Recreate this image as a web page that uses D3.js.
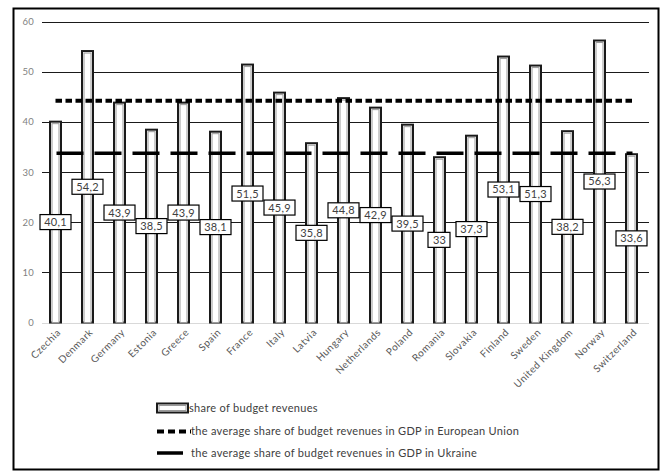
<!DOCTYPE html>
<html>
<head>
<meta charset="utf-8">
<script src="https://cdn.jsdelivr.net/npm/d3@7"></script>
<style>
  body { margin: 0; background: #fff; }
  svg { display: block; font-family: Lato, "Open Sans", sans-serif; }
</style>
</head>
<body>
<div class="chart"></div>
<script>
// share of budget revenues in GDP, by country
const countries = ["Czechia", "Denmark", "Germany", "Estonia", "Greece", "Spain", "France", "Italy", "Latvia",
  "Hungary", "Netherlands", "Poland", "Romania", "Slovakia", "Finland", "Sweden", "United Kingdom", "Norway", "Switzerland"];
const shares = [40.1, 54.2, 43.9, 38.5, 43.9, 38.1, 51.5, 45.9, 35.8, 44.8, 42.9, 39.5, 33, 37.3, 53.1, 51.3, 38.2, 56.3, 33.6];
const euAverage = 44.3;
const ukraineAverage = 33.8;
const yTicks = [0, 10, 20, 30, 40, 50, 60];
const legendLabels = [
  "share of budget revenues",
  "the average share of budget revenues in GDP in European Union",
  " the average share of budget revenues in GDP in Ukraine"
];

const svgWidth = 662;
const svgHeight = 471;

const svg = d3.select(".chart")
  .append("svg")
  .attr("width", svgWidth)
  .attr("height", svgHeight);

// outer frame
svg.append("rect")
  .attr("x", 13.5).attr("y", 8.5)
  .attr("width", 645).attr("height", 461)
  .attr("fill", "none")
  .attr("stroke", "#000")
  .attr("stroke-width", 2);

const x = d3.scaleBand()
  .domain(countries)
  .range([39.5, 647.5]);

const y = d3.scaleLinear()
  .domain([0, 60])
  .range([322.5, 22]);

const gridX0 = 42, gridX1 = 649;

// gridlines
svg.selectAll(".grid")
  .data(yTicks)
  .join("line")
  .attr("x1", gridX0).attr("x2", gridX1)
  .attr("y1", d => Math.round(y(d)) + 0.5)
  .attr("y2", d => Math.round(y(d)) + 0.5)
  .attr("stroke", d => d === 0 ? "#d9d9d9" : "#1a1a1a")
  .attr("stroke-width", 1);

// y tick labels
svg.selectAll(".ytick")
  .data(yTicks)
  .join("text")
  .attr("x", 34)
  .attr("y", d => y(d))
  .attr("dy", "0.35em")
  .attr("text-anchor", "end")
  .attr("font-size", 9.5)
  .attr("letter-spacing", 0.3)
  .attr("fill", "#7f7f7f")
  .text(d => d);

// bars with double outline
const barW = 11;
const bars = svg.selectAll(".bar")
  .data(countries)
  .join("g");

bars.append("rect")
  .attr("x", d => x(d) + x.bandwidth() / 2 - barW / 2)
  .attr("y", (d, i) => y(shares[i]))
  .attr("width", barW)
  .attr("height", (d, i) => y(0) - y(shares[i]))
  .attr("fill", "#fff")
  .attr("stroke", "#1a1a1a")
  .attr("stroke-width", 2);

bars.append("rect")
  .attr("x", d => x(d) + x.bandwidth() / 2 - barW / 2 + 2)
  .attr("y", (d, i) => y(shares[i]) + 2)
  .attr("width", barW - 4)
  .attr("height", (d, i) => y(0) - y(shares[i]) - 2)
  .attr("fill", "#fff")
  .attr("stroke", "#9a9a9a")
  .attr("stroke-width", 1);

// average lines
const firstC = x(countries[0]) + x.bandwidth() / 2;
const lastC = x(countries[countries.length - 1]) + x.bandwidth() / 2;

svg.append("line")
  .attr("x1", firstC).attr("x2", lastC + 1)
  .attr("y1", y(euAverage)).attr("y2", y(euAverage))
  .attr("stroke", "#000")
  .attr("stroke-width", 4)
  .attr("stroke-dasharray", "6.5,3.5");

svg.append("line")
  .attr("x1", firstC + 1).attr("x2", lastC + 1)
  .attr("y1", y(ukraineAverage)).attr("y2", y(ukraineAverage))
  .attr("stroke", "#000")
  .attr("stroke-width", 3.5)
  .attr("stroke-dasharray", "27,11");

// data labels (centered on bar)
const labels = svg.selectAll(".lbl")
  .data(countries)
  .join("g")
  .attr("transform", (d, i) => `translate(${x(d) + x.bandwidth() / 2},${y(shares[i] / 2)})`);

labels.append("text")
  .attr("text-anchor", "middle")
  .attr("dy", "0.36em")
  .attr("font-size", 11)
  .attr("letter-spacing", 0.2)
  .attr("fill", "#404040")
  .text((d, i) => String(shares[i]).replace(".", ","));

labels.each(function () {
  const g = d3.select(this);
  const bb = g.select("text").node().getBBox();
  g.insert("rect", "text")
    .attr("x", -Math.round(bb.width / 2) - 4.5)
    .attr("y", -7.5)
    .attr("width", Math.round(bb.width) + 9)
    .attr("height", 15)
    .attr("fill", "#fff")
    .attr("stroke", "#000")
    .attr("stroke-width", 1.2);
});

// category labels
svg.selectAll(".xlbl")
  .data(countries)
  .join("text")
  .attr("transform", d => `translate(${x(d) + x.bandwidth() / 2 + 6},${333}) rotate(-45)`)
  .attr("text-anchor", "end")
  .attr("font-size", 10)
  .attr("letter-spacing", 0.5)
  .attr("fill", "#595959")
  .text(d => d);

// legend
const legend = svg.append("g");
const rowY = [408, 431.5, 453];

legend.append("rect")
  .attr("x", 157).attr("y", rowY[0] - 4.5)
  .attr("width", 31).attr("height", 9)
  .attr("fill", "#fff")
  .attr("stroke", "#1a1a1a")
  .attr("stroke-width", 2);
legend.append("rect")
  .attr("x", 159).attr("y", rowY[0] - 2.5)
  .attr("width", 27).attr("height", 5)
  .attr("fill", "#fff")
  .attr("stroke", "#9a9a9a")
  .attr("stroke-width", 1);

legend.append("line")
  .attr("x1", 157).attr("x2", 191)
  .attr("y1", rowY[1]).attr("y2", rowY[1])
  .attr("stroke", "#000")
  .attr("stroke-width", 4)
  .attr("stroke-dasharray", "7,4");

legend.append("line")
  .attr("x1", 157).attr("x2", 183)
  .attr("y1", rowY[2]).attr("y2", rowY[2])
  .attr("stroke", "#000")
  .attr("stroke-width", 3.5);

legend.selectAll(".ltxt")
  .data(legendLabels)
  .join("text")
  .attr("x", (d, i) => [189, 191, 188][i])
  .attr("y", (d, i) => rowY[i])
  .attr("dy", "0.35em")
  .attr("font-size", 11)
  .attr("letter-spacing", 0.3)
  .attr("fill", "#404040")
  .style("white-space", "pre")
  .text(d => d);
</script>
</body>
</html>
